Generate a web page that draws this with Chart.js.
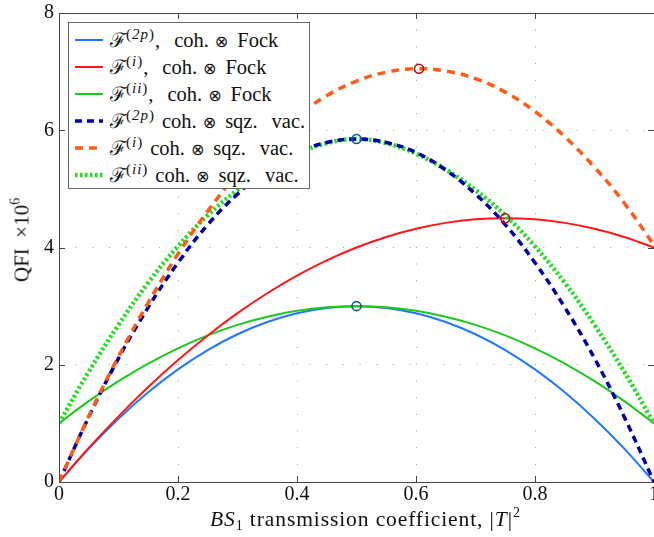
<!DOCTYPE html>
<html>
<head>
<meta charset="utf-8">
<script src="https://cdn.jsdelivr.net/npm/chart.js@4"></script>
<style>
  body { margin: 0; overflow: hidden; background: #fff; }
  #wrap { position: relative; width: 680px; height: 537px; }
  .serif { font-family: "Liberation Serif", "DejaVu Serif", serif; color: #111; }
  #legend {
    position: absolute; left: 68px; top: 22px; width: 240px; height: 162px;
    padding-top: 3px; border: 1px solid #666; background: #fff; font-size: 20.5px;
  }
  #legend .row { height: 27px; display: flex; align-items: center; white-space: nowrap; }
  #legend svg { margin-left: 6px; margin-right: 7px; flex: none; }
  #legend sup { font-size: 15px; letter-spacing: 1px; vertical-align: 8px; line-height: 0; }
  .scr { font-family: "DejaVu Serif", serif; font-size: 20px; }
  .ot { font-family: "DejaVu Sans", sans-serif; font-size: 16px; margin: 0 9px 0 6px; }
  .gap { display: inline-block; }
  #xtitle {
    position: absolute; left: 210px; top: 507px; font-size: 21.5px; letter-spacing: 0.9px;
    white-space: nowrap;
  }
  #xtitle sub { font-size: 14px; vertical-align: -4px; line-height: 0; }
  #xtitle sup, #ytitle sup { font-size: 14px; vertical-align: 9px; line-height: 0; }
  #ytitle {
    position: absolute; left: 22px; top: 240px; font-size: 21px; white-space: nowrap;
    transform: translate(-50%, -50%) rotate(-90deg);
  }
</style>
</head>
<body>
<div id="wrap">
  <canvas id="qfi" width="680" height="537"></canvas>
  <div id="legend" class="serif"></div>
  <div id="xtitle" class="serif"><i>BS</i><sub>1</sub> transmission coefficient, |<i>T</i>|<sup>2</sup></div>
  <div id="ytitle" class="serif">QFI &nbsp;×10<sup>6</sup></div>
</div>
<script>
// |T|^2 sample points
const T_VALUES = [0, 0.05, 0.1, 0.15, 0.2, 0.25, 0.3, 0.35, 0.4, 0.45, 0.5,
                  0.55, 0.6, 0.65, 0.7, 0.75, 0.8, 0.85, 0.9, 0.95, 1];

// coherent + Fock input
const FOCK_2P = [0, 0.57, 1.08, 1.53, 1.92, 2.25, 2.52, 2.73, 2.88, 2.97, 3.00,
                 2.97, 2.88, 2.73, 2.52, 2.25, 1.92, 1.53, 1.08, 0.57, 0];
const FOCK_I  = [0, 0.58, 1.12, 1.62, 2.08, 2.50, 2.88, 3.22, 3.52, 3.78, 4.00,
                 4.18, 4.32, 4.42, 4.48, 4.50, 4.48, 4.42, 4.32, 4.18, 4.00];
const FOCK_II = [1, 1.38, 1.72, 2.02, 2.28, 2.50, 2.68, 2.82, 2.92, 2.98, 3.00,
                 2.98, 2.92, 2.82, 2.68, 2.50, 2.28, 2.02, 1.72, 1.38, 1];

// coherent + squeezed vacuum input
const SQZ_2P = [0, 1.11, 2.11, 2.98, 3.74, 4.39, 4.91, 5.32, 5.62, 5.79, 5.85,
                5.79, 5.62, 5.32, 4.91, 4.39, 3.74, 2.98, 2.11, 1.11, 0];
const SQZ_I  = [0, 1.12, 2.14, 3.06, 3.89, 4.62, 5.26, 5.80, 6.24, 6.59, 6.84,
                6.99, 7.05, 7.01, 6.88, 6.65, 6.32, 5.89, 5.37, 4.76, 4.04];
const SQZ_II = [1, 1.88, 2.68, 3.40, 4.02, 4.55, 4.98, 5.33, 5.60, 5.78, 5.85,
                5.78, 5.60, 5.33, 4.98, 4.55, 4.02, 3.40, 2.68, 1.88, 1];

// maxima marked with open circles
const PEAK_T      = [0.5, 0.75, 0.5, 0.605];
const PEAK_VALUES = [3.0, 4.5, 5.85, 7.05];
const PEAK_COLORS = ['#0a5a8c', '#a81010', '#0a5a8c', '#a81010'];

const X_TICKS = [0, 0.2, 0.4, 0.6, 0.8, 1];
const Y_TICKS = [0, 2, 4, 6, 8];

const SERIES = [
  { sup: '2p', fock: true,  data: FOCK_2P, color: '#1f78ff', width: 2,   dash: [],         order: 6 },
  { sup: 'i',  fock: true,  data: FOCK_I,  color: '#ff1717', width: 2,   dash: [],         order: 4 },
  { sup: 'ii', fock: true,  data: FOCK_II, color: '#1ec81e', width: 2,   dash: [],         order: 5 },
  { sup: '2p', fock: false, data: SQZ_2P,  color: '#0000a6', width: 3.5, dash: [7, 5],     order: 2 },
  { sup: 'i',  fock: false, data: SQZ_I,   color: '#ff5b16', width: 3.5, dash: [8, 6],     order: 1 },
  { sup: 'ii', fock: false, data: SQZ_II,  color: '#22dd22', width: 4.5, dash: [2.5, 2.5], order: 3 }
];

const serif = '"Liberation Serif", "DejaVu Serif", serif';

// box round the plot with inward tick marks on every side
const frame = {
  id: 'frame',
  afterDatasetsDraw(chart) {
    const { ctx, chartArea: a, scales: { x, y } } = chart;
    ctx.save();
    ctx.strokeStyle = '#454545';
    ctx.lineWidth = 1;
    ctx.beginPath();
    ctx.rect(a.left + 0.5, a.top + 0.5, a.right - a.left, a.bottom - a.top);
    x.ticks.forEach(t => {
      const px = Math.round(x.getPixelForValue(t.value)) + 0.5;
      ctx.moveTo(px, a.bottom); ctx.lineTo(px, a.bottom - 6);
      ctx.moveTo(px, a.top); ctx.lineTo(px, a.top + 6);
    });
    y.ticks.forEach(t => {
      const py = Math.round(y.getPixelForValue(t.value)) + 0.5;
      ctx.moveTo(a.left, py); ctx.lineTo(a.left + 6, py);
      ctx.moveTo(a.right, py); ctx.lineTo(a.right - 6, py);
    });
    ctx.stroke();
    ctx.restore();
  }
};

const datasets = SERIES.map(s => ({
  data: T_VALUES.map((t, i) => ({ x: t, y: s.data[i] })),
  borderColor: s.color,
  borderWidth: s.width,
  borderDash: s.dash,
  pointRadius: 0,
  tension: 0.4,
  fill: false,
  order: s.order
}));

datasets.push({
  data: PEAK_T.map((t, i) => ({ x: t, y: PEAK_VALUES[i] })),
  showLine: false,
  pointRadius: 4.5,
  pointBorderWidth: 1.6,
  pointBackgroundColor: 'rgba(0,0,0,0)',
  pointBorderColor: PEAK_COLORS,
  order: 0
});

const gridOpts = { color: '#9a9a9a', lineWidth: 1, drawTicks: false };

new Chart(document.getElementById('qfi'), {
  type: 'line',
  data: { datasets },
  options: {
    responsive: false,
    animation: false,
    layout: { padding: { left: 39, right: 26, top: 11, bottom: 29 } },
    plugins: { legend: { display: false }, tooltip: { enabled: false } },
    scales: {
      x: {
        type: 'linear', min: 0, max: 1,
        afterBuildTicks: axis => { axis.ticks = X_TICKS.map(v => ({ value: v })); },
        ticks: { color: '#111', font: { family: serif, size: 20, lineHeight: 1 },
                 padding: 3, maxRotation: 0, callback: v => String(v) },
        grid: gridOpts,
        border: { display: false, dash: [1, 15.7] }
      },
      y: {
        type: 'linear', min: 0, max: 8,
        afterBuildTicks: axis => { axis.ticks = Y_TICKS.map(v => ({ value: v })); },
        ticks: { color: '#111', font: { family: serif, size: 20, lineHeight: 0.8 },
                 padding: 5, callback: v => String(v) },
        grid: gridOpts,
        border: { display: false, dash: [1, 15.7] }
      }
    }
  },
  plugins: [frame]
});

// legend rows: line sample, script F with superscript, input state
const legend = document.getElementById('legend');
SERIES.forEach(s => {
  const row = document.createElement('div');
  row.className = 'row';
  const dash = s.dash.length ? `stroke-dasharray="${s.dash.join(' ')}"` : '';
  const tail = s.fock
    ? ',<span class="gap" style="width:14px"></span>coh.<span class="ot">⊗</span>Fock'
    : '<span class="gap" style="width:7px"></span>coh.<span class="ot">⊗</span>sqz.' +
      '<span class="gap" style="width:14px"></span>vac.';
  row.innerHTML =
    `<svg width="28" height="8"><line x1="0" y1="4" x2="28" y2="4" stroke="${s.color}" ` +
    `stroke-width="${s.width}" ${dash}/></svg>` +
    `<span><span class="scr">ℱ</span><sup>(<i>${s.sup}</i>)</sup>${tail}</span>`;
  legend.appendChild(row);
});
</script>
</body>
</html>
